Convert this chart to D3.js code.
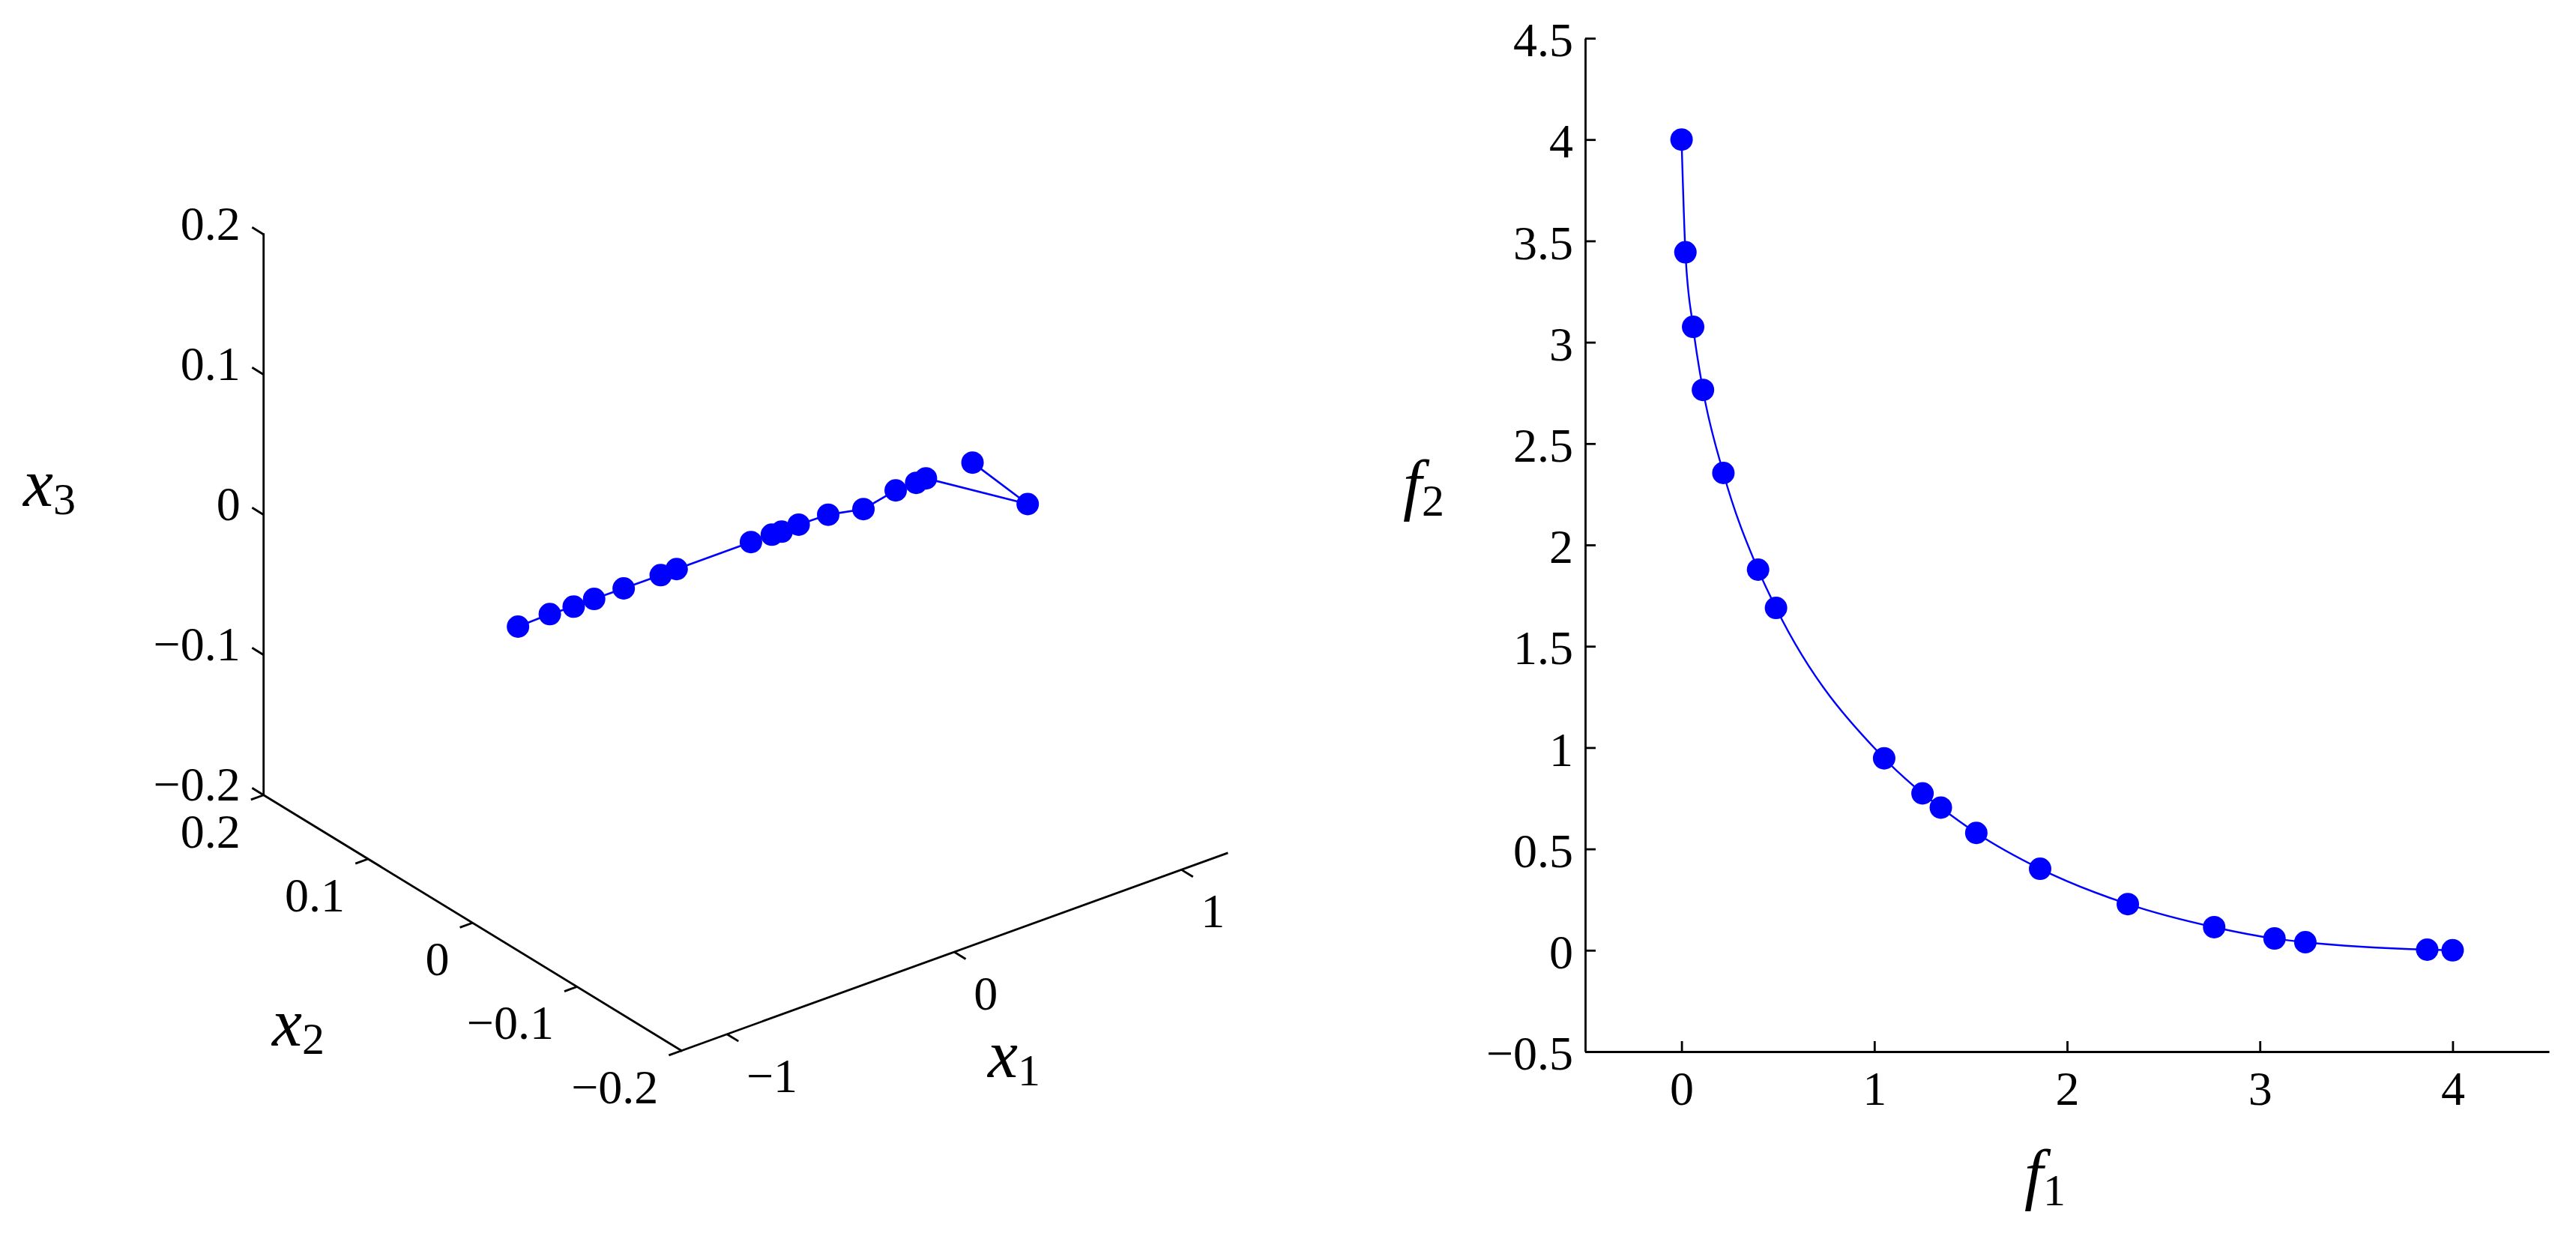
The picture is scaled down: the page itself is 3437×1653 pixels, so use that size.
<!DOCTYPE html>
<html><head><meta charset="utf-8">
<script src="https://cdn.jsdelivr.net/npm/d3@7"></script>
<style>
html,body{margin:0;padding:0;background:#fff;}
svg{display:block;background:#fff;}
text{font-family:"Liberation Serif","Times New Roman",serif;fill:#000;}
</style></head><body>
<svg id="chart" width="3437" height="1653"></svg>
<script>
// ---- data ----
const f1Vals = [0, 0.02, 0.06, 0.111, 0.217, 0.397, 0.49, 1.051, 1.25, 1.345, 1.529, 1.86, 2.315, 2.763, 3.076, 3.236, 3.868, 4.0];
const f2Vals = [4.0, 3.444, 3.076, 2.765, 2.355, 1.878, 1.689, 0.947, 0.774, 0.704, 0.579, 0.402, 0.228, 0.114, 0.058, 0.04, 0.003, 0.0];
const x1Vals = [-1.0, -0.86, -0.755, -0.665, -0.535, -0.372, -0.302, 0.025, 0.117, 0.16, 0.235, 0.365, 0.52, 0.662, 0.752, 0.795, 0.967, 1.0];
const x2Vals = [0, 0, 0, 0, 0, 0, 0, 0, 0, 0, 0, 0, 0, 0, 0, 0, -0.06, 0];
const x3Vals = [-0.0004, 0.0003, -0.0005, -0.0003, -0.0004, -0.0005, -0.0003, -0.0002, -0.0003, -0.0007, -0.0001, -0.0006, -0.0057, -0.0007, -0.0006, 0.0001, -0.001, -0.0007];
const x1Ticks = [-1, 0, 1];
const x2Ticks = [-0.2, -0.1, 0, 0.1, 0.2];
const x3Ticks = [-0.2, -0.1, 0, 0.1, 0.2];
const f1Ticks = [0, 1, 2, 3, 4];
const f2Ticks = [-0.5, 0, 0.5, 1, 1.5, 2, 2.5, 3, 3.5, 4, 4.5];
const x1Lim = [-1.2, 1.2], x2Lim = [-0.2, 0.2], x3Lim = [-0.2, 0.2];
const fLim = [-0.5, 4.5];

const BLUE = "#0000ff";
const fmt = v => (v < 0 ? "\u2212" : "") + Math.abs(v);
const svg = d3.select("#chart");

// ---- left: 3D view (orthographic projection of the axis box) ----
const s1 = d3.scaleLinear().domain(x1Lim).range([0, 1]);
const s2 = d3.scaleLinear().domain(x2Lim).range([0, 1]);
const s3 = d3.scaleLinear().domain(x3Lim).range([0, 1]);
const B = [909.3, 1401.7], E1 = [727.7, -263.3], E2 = [-557.6, -341], E3 = [0, -748];
function proj(a, b, c) {
  const u = s1(a), v = s2(b), w = s3(c);
  return [B[0] + u*E1[0] + v*E2[0] + w*E3[0], B[1] + u*E1[1] + v*E2[1] + w*E3[1]];
}
function unit(v, k) { const n = Math.hypot(v[0], v[1]); return [v[0]/n*k, v[1]/n*k]; }
const TL = 18;
const t1 = unit([-E2[0], -E2[1]], TL);
const t2 = unit([-E1[0], -E1[1]], TL);
const t3 = unit([E2[0], E2[1]], TL);

const gL = svg.append("g");
const axisLines = [
  [proj(x1Lim[0], x2Lim[0], x3Lim[0]), proj(x1Lim[1], x2Lim[0], x3Lim[0])],
  [proj(x1Lim[0], x2Lim[0], x3Lim[0]), proj(x1Lim[0], x2Lim[1], x3Lim[0])],
  [proj(x1Lim[0], x2Lim[1], x3Lim[0]), proj(x1Lim[0], x2Lim[1], x3Lim[1])]
];
gL.selectAll("line.ax").data(axisLines).join("line").attr("class", "ax")
  .attr("x1", d => d[0][0]).attr("y1", d => d[0][1]).attr("x2", d => d[1][0]).attr("y2", d => d[1][1])
  .attr("stroke", "#000").attr("stroke-width", 2.8).attr("stroke-linecap", "square");

function ticks3(vals, pf, dir, lx, ly, anchor) {
  const g = gL.append("g");
  const pts = vals.map(v => ({v, p: pf(v)}));
  g.selectAll("line").data(pts).join("line")
    .attr("x1", d => d.p[0]).attr("y1", d => d.p[1])
    .attr("x2", d => d.p[0] + dir[0]).attr("y2", d => d.p[1] + dir[1])
    .attr("stroke", "#000").attr("stroke-width", 2.8);
  g.selectAll("text").data(pts).join("text")
    .attr("x", d => d.p[0] + lx).attr("y", d => d.p[1] + ly)
    .attr("text-anchor", anchor).attr("font-size", 64).text(d => fmt(d.v));
}
ticks3(x1Ticks, v => proj(v, x2Lim[0], x3Lim[0]), t1, 26, 77, "start");
ticks3(x2Ticks, v => proj(x1Lim[0], v, x3Lim[0]), t2, -31, 70, "end");
ticks3(x3Ticks, v => proj(x1Lim[0], x2Lim[1], v), t3, -31, 7, "end");

const pts3 = x1Vals.map((a, i) => proj(a, x2Vals[i], x3Vals[i]));
gL.append("path").datum(pts3)
  .attr("d", d3.line().x(d => d[0]).y(d => d[1]))
  .attr("fill", "none").attr("stroke", BLUE).attr("stroke-width", 2.6);
gL.selectAll("circle").data(pts3).join("circle")
  .attr("cx", d => d[0]).attr("cy", d => d[1]).attr("r", 15).attr("fill", BLUE);

function label(x, y, main, sub) {
  const t = svg.append("text").attr("x", x).attr("y", y);
  t.append("tspan").attr("font-style", "italic").attr("font-size", 90).text(main);
  t.append("tspan").attr("font-size", 60).attr("dy", 11).text(sub);
}
label(31, 675, "x", "3");
label(363, 1395, "x", "2");
label(1318, 1437, "x", "1");

// ---- right: objective space ----
const xR = d3.scaleLinear().domain(fLim).range([2115, 3401]);
const yR = d3.scaleLinear().domain(fLim).range([1403, 51]);

const gy = svg.append("g").attr("transform", "translate(2115,0)")
  .call(d3.axisLeft(yR).tickValues(f2Ticks).tickFormat(fmt).tickSize(-14).tickSizeOuter(0).tickPadding(16));
const gx = svg.append("g").attr("transform", "translate(0,1403)")
  .call(d3.axisBottom(xR).tickValues(f1Ticks).tickFormat(fmt).tickSize(-14).tickSizeOuter(0).tickPadding(26));
[gy, gx].forEach(g => {
  g.attr("font-family", null).attr("font-size", null);
  g.select(".domain").attr("stroke-width", 2.8);
  g.selectAll(".tick line").attr("stroke-width", 2.8);
  g.selectAll(".tick text").attr("font-size", 64);
});
gy.selectAll(".tick text").attr("dy", "0.37em");

svg.append("path").datum(f1Vals.map((f, i) => [f, f2Vals[i]]))
  .attr("d", d3.line().x(d => xR(d[0])).y(d => yR(d[1])).curve(d3.curveMonotoneX))
  .attr("fill", "none").attr("stroke", BLUE).attr("stroke-width", 2.4);
svg.append("g").selectAll("circle").data(f1Vals.map((f, i) => [f, f2Vals[i]])).join("circle")
  .attr("cx", d => xR(d[0])).attr("cy", d => yR(d[1])).attr("r", 15).attr("fill", BLUE);

label(1872, 677, "f", "2");
label(2701, 1597, "f", "1");
</script>
</body></html>
